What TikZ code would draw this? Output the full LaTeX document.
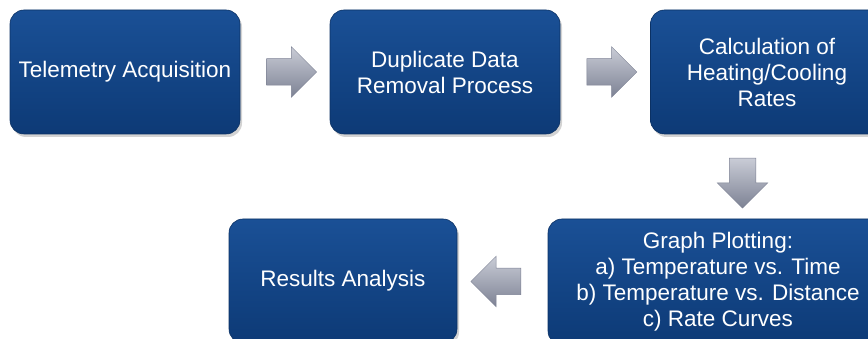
\documentclass[tikz,border=0pt]{standalone}
\usepackage{fontspec}
\setmainfont{Liberation Sans}
\usetikzlibrary{shapes.arrows,shadows,calc}

\definecolor{stageblue}{HTML}{1A5096}
\definecolor{stagebluedark}{HTML}{0D3A76}
\definecolor{arrowlight}{HTML}{C9CCD6}
\definecolor{arrowdark}{HTML}{7D8294}

\tikzset{
  stagebox/.style={rounded corners=14pt, top color=stageblue, bottom color=stagebluedark,
    draw=stagebluedark!85!black, line width=0.6pt, text=white, align=center,
    minimum width=230pt, minimum height=124pt, inner sep=0pt,
    font=\fontsize{22.5}{26}\selectfont,
    drop shadow={opacity=0.35, shadow xshift=2pt, shadow yshift=-3pt}},
  blockarrow/.style={single arrow, minimum height=50pt, inner xsep=0pt, inner ysep=13pt,
    single arrow head extend=12pt,
    top color=arrowlight, bottom color=arrowdark, draw=arrowdark, line width=0.5pt}
}

\begin{document}
\begin{tikzpicture}[x=1pt,y=-1pt]
\useasboundingbox (0,0) rectangle (868,339);
\clip (0,0) rectangle (868,339);

% top row
\node[stagebox] (acq)   at (125,72) {Telemetry Acquisition};
\node[stagebox] (dup)   at (445,72) {Duplicate Data\\Removal Process};
\node[stagebox,minimum width=233pt] (rates) at (767,72) {Calculation of\\Heating/Cooling\\Rates};

% bottom row
\node[stagebox,minimum width=340pt,minimum height=126pt] (plot) at (718,282)
  {Graph Plotting:\\a) Temperature vs. Time\\b) Temperature vs. Distance\\c) Rate Curves};
\node[stagebox,minimum width=228pt] (res) at (343,281) {Results Analysis};

% block arrows between stages
\node[blockarrow] (a1) at ($(acq.east)!0.5!(dup.west)$) {};
\node[blockarrow] (a2) at ($(dup.east)!0.5!(rates.west)$) {};
\node[blockarrow,shape border rotate=270,inner xsep=13pt,inner ysep=0pt] (a3)
  at ($(rates.south)!0.5!(plot.north)$) {};
\node[blockarrow,shape border rotate=180] (a4) at ($(plot.west)!0.5!(res.east)$) {};
\end{tikzpicture}
\end{document}
